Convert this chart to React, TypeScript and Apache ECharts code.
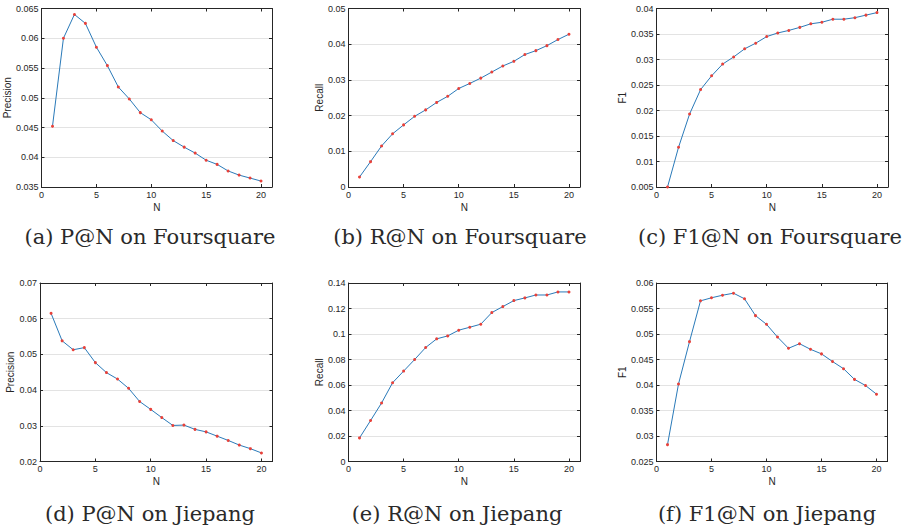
import React, { useEffect, useRef } from "react";
import * as echarts from "echarts";

const N = [1, 2, 3, 4, 5, 6, 7, 8, 9, 10, 11, 12, 13, 14, 15, 16, 17, 18, 19, 20];

const precisionFoursquare = [0.0452, 0.0600, 0.0640, 0.0625, 0.0585, 0.0554, 0.0518, 0.0498, 0.0475, 0.0463, 0.0444, 0.0428, 0.0417, 0.0407, 0.0395, 0.0388, 0.0377, 0.0370, 0.0365, 0.0360];
const recallFoursquare = [0.0028, 0.0071, 0.0115, 0.0149, 0.0174, 0.0198, 0.0216, 0.0237, 0.0254, 0.0276, 0.0290, 0.0305, 0.0322, 0.0339, 0.0352, 0.0371, 0.0382, 0.0396, 0.0413, 0.0428];
const f1Foursquare = [0.0050, 0.0128, 0.0193, 0.0241, 0.0268, 0.0291, 0.0305, 0.0321, 0.0332, 0.0345, 0.0352, 0.0357, 0.0363, 0.0370, 0.0373, 0.0379, 0.0379, 0.0382, 0.0387, 0.0392];
const precisionJiepang = [0.0615, 0.0538, 0.0513, 0.0519, 0.0477, 0.0449, 0.0431, 0.0405, 0.0368, 0.0346, 0.0323, 0.0301, 0.0302, 0.0290, 0.0283, 0.0271, 0.0259, 0.0246, 0.0236, 0.0224];
const recallJiepang = [0.0185, 0.0321, 0.0459, 0.0618, 0.0709, 0.0800, 0.0894, 0.0962, 0.0985, 0.1030, 0.1053, 0.1077, 0.1168, 0.1215, 0.1262, 0.1283, 0.1306, 0.1306, 0.1330, 0.1330];
const f1Jiepang = [0.0283, 0.0402, 0.0485, 0.0565, 0.0571, 0.0576, 0.0580, 0.0569, 0.0536, 0.0519, 0.0494, 0.0472, 0.0481, 0.0470, 0.0461, 0.0446, 0.0432, 0.0411, 0.0399, 0.0382];

const xTicks = [0, 5, 10, 15, 20];

const panels = [
  { values: precisionFoursquare, yName: "Precision", min: 0.035, max: 0.065, interval: 0.005, caption: "(a) P@N on Foursquare" },
  { values: recallFoursquare, yName: "Recall", min: 0, max: 0.05, interval: 0.01, caption: "(b) R@N on Foursquare" },
  { values: f1Foursquare, yName: "F1", min: 0.005, max: 0.04, interval: 0.005, caption: "(c) F1@N on Foursquare" },
  { values: precisionJiepang, yName: "Precision", min: 0.02, max: 0.07, interval: 0.01, caption: "(d) P@N on Jiepang" },
  { values: recallJiepang, yName: "Recall", min: 0, max: 0.14, interval: 0.02, caption: "(e) R@N on Jiepang" },
  { values: f1Jiepang, yName: "F1", min: 0.025, max: 0.06, interval: 0.005, caption: "(f) F1@N on Jiepang" },
];

const layout = [
  { left: 41.5, top: 8.5, width: 230.5, height: 178.5, nameGap: 28, capX: 150, capY: 237 },
  { left: 348.5, top: 8.5, width: 231.5, height: 178.5, nameGap: 23, capX: 460, capY: 237 },
  { left: 656.5, top: 8.5, width: 231.5, height: 178.5, nameGap: 29, capX: 770, capY: 237 },
  { left: 40, top: 283, width: 232.5, height: 178.5, nameGap: 23, capX: 150, capY: 514 },
  { left: 348.5, top: 283, width: 231.5, height: 178.5, nameGap: 23, capX: 457, capY: 514 },
  { left: 656.5, top: 283, width: 231, height: 178.5, nameGap: 29, capX: 767, capY: 514 },
];

const AX = "#262626";
const FONT = "Liberation Sans";

export default function App() {
  const ref = useRef<HTMLDivElement>(null);
  useEffect(() => {
    document.body.style.margin = "0";
    if (!ref.current) return;
    const chart = echarts.init(ref.current, undefined, { renderer: "svg" });
    const grid: any[] = [];
    const xAxis: any[] = [];
    const yAxis: any[] = [];
    const series: any[] = [];
    const graphic: any[] = [];
    panels.forEach((p, i) => {
      const L = layout[i];
      grid.push({ left: L.left, top: L.top, width: L.width, height: L.height, containLabel: false });
      const axLine = { show: true, onZero: false, lineStyle: { color: AX, width: 1 } };
      const tick = { show: true, inside: true, length: 3, lineStyle: { color: AX, width: 1 } };
      xAxis.push({
        type: "value", gridIndex: i, min: 0, max: 21, position: "bottom",
        name: "N", nameLocation: "middle", nameGap: 15,
        nameTextStyle: { color: AX, fontFamily: FONT, fontSize: 10 },
        axisLine: axLine,
        axisTick: { ...tick, customValues: xTicks },
        axisLabel: { color: AX, fontFamily: FONT, fontSize: 9, margin: 3, customValues: xTicks },
        splitLine: { show: false },
      });
      xAxis.push({
        type: "value", gridIndex: i, min: 0, max: 21, position: "top",
        axisLine: axLine,
        axisTick: { ...tick, customValues: xTicks },
        axisLabel: { show: false, customValues: xTicks },
        splitLine: { show: false },
      });
      yAxis.push({
        type: "value", gridIndex: i, min: p.min, max: p.max, interval: p.interval, position: "left",
        name: p.yName, nameLocation: "middle", nameGap: L.nameGap,
        nameTextStyle: { color: AX, fontFamily: FONT, fontSize: 10 },
        axisLine: axLine, axisTick: tick,
        axisLabel: { color: AX, fontFamily: FONT, fontSize: 9, margin: 3 },
        splitLine: { show: true, lineStyle: { color: "#e3e3e3", width: 1 } },
      });
      yAxis.push({
        type: "value", gridIndex: i, min: p.min, max: p.max, interval: p.interval, position: "right",
        axisLine: axLine, axisTick: tick,
        axisLabel: { show: false },
        splitLine: { show: false },
      });
      series.push({
        type: "line", xAxisIndex: 2 * i, yAxisIndex: 2 * i,
        data: N.map((n, k) => [n, p.values[k]]),
        symbol: "circle", symbolSize: 3, showSymbol: true, clip: false,
        lineStyle: { color: "#2a7ab9", width: 1 },
        itemStyle: { color: "#e8413a" },
        emphasis: { disabled: true },
      });
      graphic.push({
        type: "text", x: L.capX, y: L.capY,
        style: { text: p.caption, fill: "#2a2a2a", font: "21px 'DejaVu Serif'", textAlign: "center", textVerticalAlign: "middle" },
      });
    });
    chart.setOption({ animation: false, backgroundColor: "#fff", grid, xAxis, yAxis, series, graphic });
    return () => chart.dispose();
  }, []);
  return <div ref={ref} style={{ width: 904, height: 527 }} />;
}
